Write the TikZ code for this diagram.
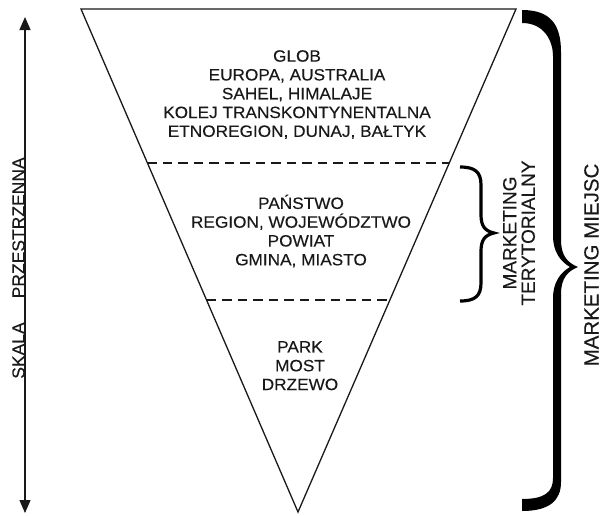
\documentclass[tikz,border=0pt]{standalone}
\usepackage{fontspec}
\setmainfont{Liberation Sans}[FakeBold=0.25]
\newfontfamily\widesans[FakeStretch=1.05,FakeBold=0.25]{Liberation Sans}
\usetikzlibrary{arrows.meta,calc}
\definecolor{ink}{rgb}{0.1,0.1,0.1}
\begin{document}
\begin{tikzpicture}[x=1pt,y=-1pt,
  edge/.style={draw=ink,line width=1.3pt,line join=miter},
  divider/.style={draw=ink,line width=1.3pt,dash pattern=on 9.5pt off 6pt},
  inner/.style={inner sep=0pt,align=center,text=ink,anchor=north,
    font=\widesans\fontsize{16.4}{18.8}\selectfont},
  sidelabel/.style={inner sep=0pt,text=ink,rotate=90},
  scalearrow/.style={draw=ink,line width=1.3pt,
    {Triangle[length=13pt,width=11pt]}-{Triangle[length=13pt,width=11pt]}},
  smallbrace/.style={draw=black,line width=3.2pt,line cap=butt},
]
\useasboundingbox (0,0) rectangle (602,515);
% triangle
\coordinate (A) at (81,9);
\coordinate (B) at (516,9);
\coordinate (C) at (298,512);
\draw[edge] (A) -- (B) -- (C) -- cycle;
% dividers
\coordinate (d1l) at ($(A)!0.306!(C)$);
\coordinate (d1r) at ($(B)!0.306!(C)$);
\coordinate (d2l) at ($(A)!0.5785!(C)$);
\coordinate (d2r) at ($(B)!0.5785!(C)$);
\draw[divider] (d1l) -- (d1r);
\draw[divider] (d2l) -- (d2r);
% texts inside
\node[inner] (top) at (297,50) {GLOB\\EUROPA, AUSTRALIA\\SAHEL, HIMALAJE\\KOLEJ TRANSKONTYNENTALNA\\ETNOREGION, DUNAJ, BAŁTYK};
\node[inner] (mid) at (301,194.5) {PAŃSTWO\\REGION, WOJEWÓDZTWO\\POWIAT\\GMINA, MIASTO};
\node[inner] (low) at (300,341) {PARK\\MOST\\DRZEWO};
% left arrow
\coordinate (s1) at (25,17);
\coordinate (s2) at (25,513);
\draw[scalearrow] (s2) -- (s1);
\node[sidelabel,anchor=base,font=\fontsize{17.5}{20}\selectfont] (skala) at (24.5,268) {SKALA\hspace{24pt}PRZESTRZENNA};
% small brace
\coordinate (sb1) at (460,167);
\coordinate (sbt) at (494,233);
\coordinate (sb2) at (460,301);
\draw[smallbrace] (sb1) .. controls (475,167) and (481,172) .. (481,185) -- (481,215)
  .. controls (481,226) and (485,231) .. (sbt)
  .. controls (485,235) and (481,240) .. (481,251) -- (481,283)
  .. controls (481,296) and (475,301) .. (sb2);
\node[sidelabel,anchor=center,align=center,font=\fontsize{19}{18.5}\selectfont] (terr) at (519,233) {MARKETING\\TERYTORIALNY};
% big brace
\coordinate (bb1) at (522,10);
\coordinate (bbt) at (578,267);
\coordinate (bb2) at (522,511);
\fill[black] (bb1) .. controls (550,10) and (561,24) .. (561,52) -- (561,240)
  .. controls (561,256) and (568,263) .. (bbt)
  .. controls (568,271) and (561,278) .. (561,294) -- (561,482)
  .. controls (561,500) and (550,511) .. (bb2) -- (522,499)
  .. controls (545,499) and (553,492) .. (553,478) -- (553,298)
  .. controls (553,282) and (561,272) .. (570,267)
  .. controls (561,262) and (553,252) .. (553,236) -- (553,56)
  .. controls (553,42) and (545,23) .. (522,23) -- cycle;
\node[sidelabel,anchor=base,font=\fontsize{20.5}{24}\selectfont] (miejsc) at (598.5,265) {MARKETING MIEJSC};
\end{tikzpicture}
\end{document}
